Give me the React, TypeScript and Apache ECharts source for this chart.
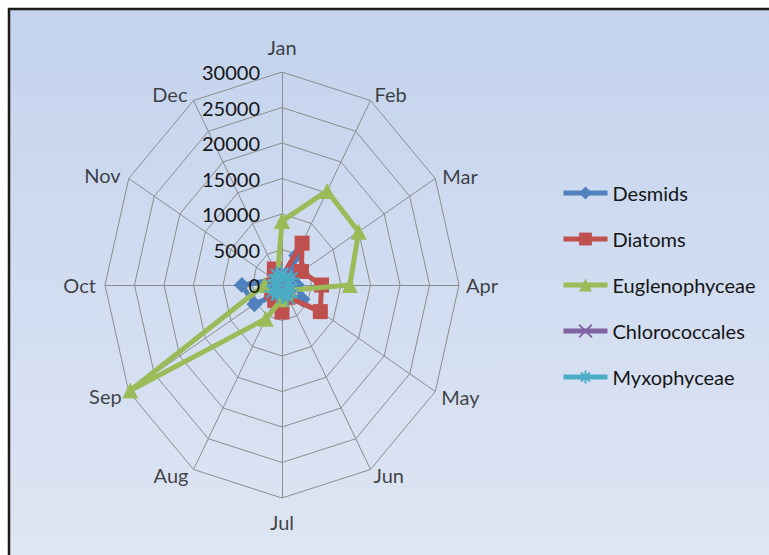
import React, { useEffect, useRef } from "react";
import * as echarts from "echarts";

const months = ["Jan", "Feb", "Mar", "Apr", "May", "Jun", "Jul", "Aug", "Sep", "Oct", "Nov", "Dec"];
const ticks = [5000, 10000, 15000, 20000, 25000, 30000];
const desmids = [1000, 4800, 1500, 2500, 4000, 1500, 1000, 1500, 5400, 6800, 1500, 800];
const diatoms = [1200, 6800, 3800, 6700, 7500, 2000, 3800, 2500, 2000, 1500, 1000, 2600];
const eugleno = [9000, 15300, 15000, 11500, 1500, 1200, 2000, 5500, 29700, 3000, 1500, 1500];
const chloro = [1200, 1500, 800, 1000, 600, 700, 900, 1100, 1300, 800, 1000, 1400];
const myxo = [1500, 1200, 1800, 1000, 1500, 2000, 1200, 1500, 1800, 1000, 1300, 1600];

const MAX = 30000;
const FONT = "Lato";
const TEXT = "#151515";

const toXY = (v: number, i: number) => {
  const a = (i * Math.PI) / 6;
  return [v * Math.sin(a), v * Math.cos(a)];
};
const closed = (vals: number[]) => {
  const pts = vals.map((v, i) => toXY(v, i));
  pts.push(pts[0]);
  return pts;
};

const labelPos: any[] = [
  { position: "top", distance: 15, offset: [0, 0] },
  { position: "right", distance: 4, offset: [0, -7] },
  { position: "right", distance: 7, offset: [0, -3] },
  { position: "right", distance: 7, offset: [0, 0] },
  { position: "right", distance: 6, offset: [0, 5] },
  { position: "right", distance: 3, offset: [0, 6] },
  { position: "bottom", distance: 14, offset: [0, 0] },
  { position: "left", distance: 5, offset: [0, 6] },
  { position: "left", distance: 7, offset: [0, 4] },
  { position: "left", distance: 9, offset: [0, 0] },
  { position: "left", distance: 8, offset: [0, -4] },
  { position: "left", distance: 6, offset: [0, -7] },
];

const seriesDefs = [
  { name: "Desmids", data: desmids, color: "#4f81bd", symbol: "diamond", size: 16 },
  { name: "Diatoms", data: diatoms, color: "#c0504d", symbol: "rect", size: 15 },
  { name: "Euglenophyceae", data: eugleno, color: "#9bbb59", symbol: "triangle", size: 16 },
  { name: "Chlorococcales", data: chloro, color: "#8064a2", symbol: "path://M0,0L10,10M10,0L0,10", size: 15 },
  { name: "Myxophyceae", data: myxo, color: "#4bacc6", symbol: "path://M5,0L5,10M0,5L10,5M1.5,1.5L8.5,8.5M8.5,1.5L1.5,8.5", size: 18 },
];

export default function App() {
  const ref = useRef<HTMLDivElement>(null);
  useEffect(() => {
    if (!ref.current) return;
    const chart = echarts.init(ref.current, undefined, { renderer: "svg" });
    const rings = ticks.map((t) => ({ coords: closed(months.map(() => t)) }));
    const spokes = months.map((_, i) => ({ coords: [[0, 0], toXY(MAX, i)] }));
    const lineSeries = seriesDefs.map((s, k) => ({
      type: "line",
      name: s.name,
      data: closed(s.data),
      symbol: s.symbol,
      symbolSize: s.size,
      showSymbol: true,
      color: s.color,
      lineStyle: { color: s.color, width: 5 },
      itemStyle: {
        color: s.color,
        borderColor: s.color,
        borderWidth: k >= 3 ? 2 : 0,
      },
      z: 5 + k,
      clip: false,
    }));
    chart.setOption({
      animation: false,
      graphic: [
        {
          type: "rect",
          shape: { x: 9, y: 9, width: 780, height: 560 },
          style: {
            fill: new echarts.graphic.LinearGradient(0, 0, 0, 1, [
              { offset: 0, color: "#c3d3ed" },
              { offset: 1, color: "#dfe6f4" },
            ]),
            stroke: "#1e1b17",
            lineWidth: 2.5,
          },
          z: -10,
          silent: true,
        },
      ],
      grid: { left: 105, top: 72, width: 354, height: 426 },
      xAxis: { type: "value", min: -MAX, max: MAX, show: false },
      yAxis: {
        type: "value",
        min: -MAX,
        max: MAX,
        interval: 5000,
        position: "left",
        offset: -177,
        axisLine: { show: false, onZero: false },
        axisTick: { show: false },
        splitLine: { show: false },
        axisLabel: {
          margin: 22,
          fontFamily: FONT,
          fontSize: 20,
          color: TEXT,
          formatter: (v: number) => (v >= 0 ? String(v) : ""),
        },
        z: 20,
      },
      legend: {
        orient: "vertical",
        left: 561,
        top: 183,
        padding: 0,
        itemWidth: 44,
        itemHeight: 16,
        itemGap: 26,
        lineStyle: { width: 5 },
        textStyle: { fontFamily: FONT, fontSize: 20, color: TEXT },
        data: seriesDefs.map((s) => s.name),
      },
      series: [
        {
          type: "lines",
          coordinateSystem: "cartesian2d",
          polyline: true,
          data: rings,
          lineStyle: { color: "#8c8c8c", width: 1, opacity: 1 },
          silent: true,
          z: 1,
        },
        {
          type: "lines",
          coordinateSystem: "cartesian2d",
          polyline: false,
          data: spokes,
          lineStyle: { color: "#8c8c8c", width: 1, opacity: 1 },
          silent: true,
          z: 1,
        },
        {
          type: "scatter",
          data: months.map((m, i) => ({
            value: toXY(MAX, i),
            name: m,
            label: labelPos[i],
          })),
          symbolSize: 0.1,
          itemStyle: { color: "rgba(0,0,0,0)" },
          label: {
            show: true,
            formatter: (p: any) => p.name,
            fontFamily: FONT,
            fontSize: 20,
            color: TEXT,
          },
          silent: true,
          z: 2,
        },
        ...lineSeries,
      ],
    });
    return () => chart.dispose();
  }, []);
  return (
    <div
      ref={ref}
      style={{ position: "absolute", left: 0, top: 0, width: 769, height: 555 }}
    />
  );
}
